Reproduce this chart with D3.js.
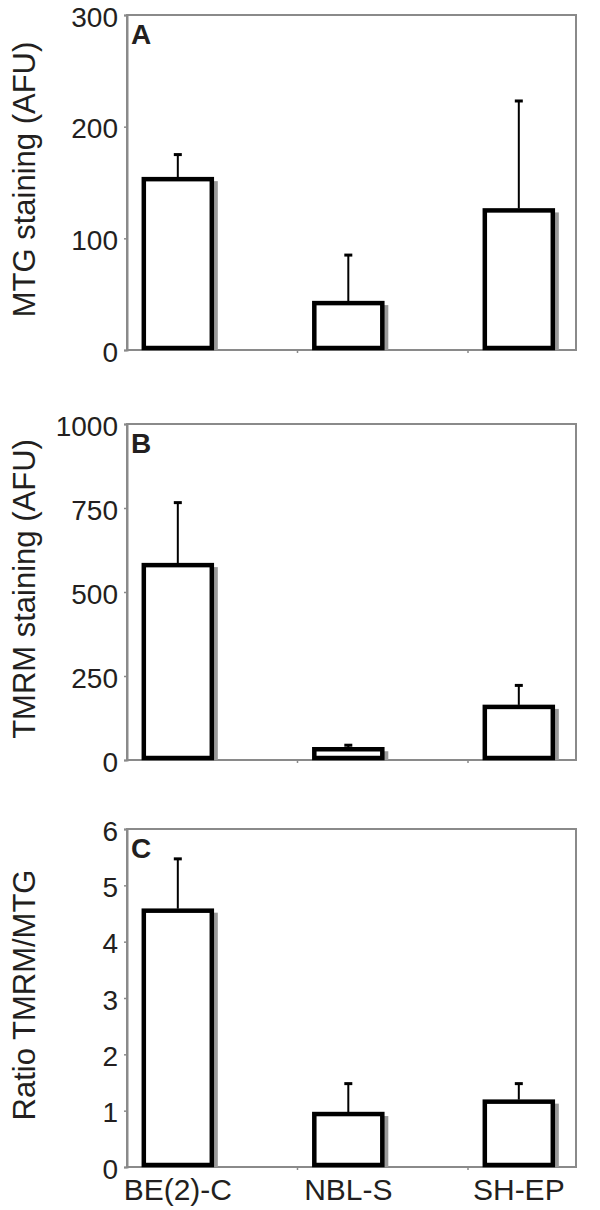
<!DOCTYPE html>
<html>
<head>
<meta charset="utf-8">
<script src="https://cdn.jsdelivr.net/npm/d3@7"></script>
<style>
  html, body { margin: 0; padding: 0; background: #fff; }
  svg { display: block; }
</style>
</head>
<body>
<svg id="chart" width="600" height="1210"></svg>
<script>
// ---- data ----
const categories = ["BE(2)-C", "NBL-S", "SH-EP"];
const mtgMean   = [153, 42, 125];
const mtgErr    = [22, 43, 98];
const tmrmMean  = [580, 32, 158];
const tmrmErr   = [186, 12, 64];
const ratioMean = [4.55, 0.94, 1.16];
const ratioErr  = [0.92, 0.54, 0.32];
const mtgTicks   = [0, 100, 200, 300];
const tmrmTicks  = [0, 250, 500, 750, 1000];
const ratioTicks = [0, 1, 2, 3, 4, 5, 6];
const yLabels = ["MTG staining (AFU)", "TMRM staining (AFU)", "Ratio TMRM/MTG"];
const panelLetters = ["A", "B", "C"];

// ---- layout ----
const svg = d3.select("#chart");
const left = 127, right = 576;
const bandW = 170.5;
const panels = [
  { mean: mtgMean,   err: mtgErr,   ticks: mtgTicks,   top: 15,  bottom: 350 },
  { mean: tmrmMean,  err: tmrmErr,  ticks: tmrmTicks,  top: 424, bottom: 760 },
  { mean: ratioMean, err: ratioErr, ticks: ratioTicks, top: 829, bottom: 1167 }
];
const font = "'Liberation Sans', Arial, Helvetica, sans-serif";
const frameColor = "#8a8a8a";
const textColor = "#231f20";

const x = d3.scaleBand().domain(categories).range([left, left + 3 * bandW]).padding(0);
const center = c => x(c) + x.bandwidth() * 0.298;
const barHalf = 34;

panels.forEach((p, i) => {
  const y = d3.scaleLinear()
    .domain([0, p.ticks[p.ticks.length - 1]])
    .range([p.bottom, p.top]);
  const g = svg.append("g");

  // frame
  g.append("rect")
    .attr("x", left).attr("y", p.top)
    .attr("width", right - left).attr("height", p.bottom - p.top)
    .attr("fill", "none").attr("stroke", frameColor).attr("stroke-width", 2);

  // y axis
  const ax = g.append("g")
    .attr("transform", `translate(${left},0)`)
    .call(d3.axisLeft(y).tickValues(p.ticks).tickSize(3).tickPadding(6).tickFormat(d3.format("d")));
  ax.select(".domain").attr("stroke", frameColor).attr("stroke-width", 2);
  ax.selectAll(".tick line").attr("stroke", frameColor).attr("stroke-width", 1.5);
  ax.selectAll(".tick text")
    .attr("font-family", font).attr("font-size", 28).attr("dy", "0.4em").attr("fill", textColor);

  // category boundary ticks on bottom
  g.selectAll(".ctick").data(categories.slice(1)).enter().append("line")
    .attr("x1", d => x(d)).attr("x2", d => x(d))
    .attr("y1", p.bottom).attr("y2", p.bottom + 3)
    .attr("stroke", frameColor).attr("stroke-width", 1.5);

  const data = categories.map((c, k) => ({ c, v: p.mean[k], e: p.err[k] }));

  // shadows
  g.selectAll(".shadow").data(data).enter().append("rect")
    .attr("x", d => center(d.c) - barHalf + 6)
    .attr("y", d => y(d.v) + 2)
    .attr("width", barHalf * 2)
    .attr("height", d => y(0) - y(d.v) - 2)
    .attr("fill", "#9a9a9a");

  // bars
  g.selectAll(".bar").data(data).enter().append("rect")
    .attr("x", d => center(d.c) - barHalf)
    .attr("y", d => y(d.v))
    .attr("width", barHalf * 2)
    .attr("height", d => Math.max(0, y(0) - 2 - y(d.v)))
    .attr("fill", "#fff").attr("stroke", "#000").attr("stroke-width", 4.5);

  // error bars
  g.selectAll(".err").data(data).enter().append("line")
    .attr("x1", d => center(d.c)).attr("x2", d => center(d.c))
    .attr("y1", d => y(d.v) - 2).attr("y2", d => y(d.v + d.e))
    .attr("stroke", "#000").attr("stroke-width", 2);
  g.selectAll(".cap").data(data).enter().append("line")
    .attr("x1", d => center(d.c) - 4).attr("x2", d => center(d.c) + 4)
    .attr("y1", d => y(d.v + d.e)).attr("y2", d => y(d.v + d.e))
    .attr("stroke", "#000").attr("stroke-width", 3);

  // panel letter
  g.append("text")
    .attr("x", 131).attr("y", p.top + 29)
    .attr("font-family", font).attr("font-size", 28).attr("font-weight", "bold")
    .attr("fill", textColor).text(panelLetters[i]);

  // y label
  g.append("text")
    .attr("transform", `translate(35,${(p.top + p.bottom) / 2 - 3}) rotate(-90)`)
    .attr("text-anchor", "middle")
    .attr("font-family", font).attr("font-size", 31).attr("fill", textColor)
    .text(yLabels[i]);

  // x labels on last panel
  if (i === panels.length - 1) {
    g.selectAll(".xl").data(categories).enter().append("text")
      .attr("x", d => center(d)).attr("y", 1200)
      .attr("text-anchor", "middle")
      .attr("font-family", font).attr("font-size", 30).attr("fill", textColor)
      .text(d => d);
  }
});
</script>
</body>
</html>
